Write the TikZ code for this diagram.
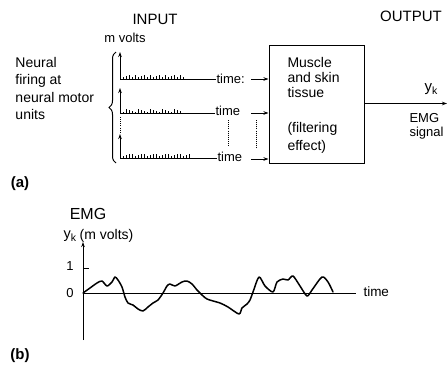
\documentclass[tikz,border=0pt]{standalone}
\usepackage{fontspec}
\setmainfont{Liberation Sans}
\usetikzlibrary{arrows.meta,decorations.pathreplacing}
\begin{document}
\begin{tikzpicture}[x=1pt,y=-1pt, line width=1pt,
  lbl/.style={inner sep=0pt, font=\fontsize{13}{15}\selectfont},
  big/.style={inner sep=0pt, font=\fontsize{15}{17}\selectfont},
  tag/.style={inner sep=0pt, font=\fontsize{15}{17}\selectfont\bfseries},
  boxtxt/.style={inner sep=0pt, anchor=base west, font=\fontsize{14}{16}\selectfont},
  arr/.style={-{Stealth[length=5pt,width=3.5pt]}},
  dotv/.style={line width=0.9pt, dash pattern=on 0.9pt off 1.2pt},
  spike/.style={line width=0.6pt},
  wave/.style={line width=1.5pt, line join=round, line cap=round}]
\useasboundingbox (0,0) rectangle (448,367);

% ---------- (a) ----------
\node[big] (input) at (155,19) {INPUT};
\node[big] (output) at (411,16) {OUTPUT};
\node[lbl] (mv) at (125,38) {m volts};
\node[inner sep=0pt, align=left, anchor=north west, font=\fontsize{14}{17.3}\selectfont] (neural) at (15,56.8)
  {Neural\\firing at\\neural motor\\units};

\coordinate (brb) at (116,163);
\coordinate (brt) at (116,52);
\draw[decorate, decoration={brace, amplitude=7pt}] (brb) -- (brt);

% axes
\coordinate (o1) at (120,79);  \coordinate (a1) at (120,52);
\coordinate (o2) at (120,113); \coordinate (a2) at (120,88);
\coordinate (o3) at (120,158); \coordinate (a3) at (120,134);
\draw[arr] (o1) -- (a1);
\draw[arr] (o2) -- (a2);
\draw[arr] (o3) -- (a3);

\node[lbl, anchor=west] (t1) at (216,78.5) {time:};
\node[lbl, anchor=west] (t2) at (215,111) {time};
\node[lbl, anchor=west] (t3) at (217,157) {time};
\draw (o1) -- (o1 -| t1.west);
\draw (o2) -- (o2 -| t2.west);
\draw (o3) -- (o3 -| t3.west);

% spikes
\foreach \i in {0,...,20}{
  \pgfmathsetmacro\hh{1.8+mod(\i*7,5)*0.6}
  \draw[spike] (123+\i*3,79) -- ++(0,-\hh);
}
\foreach \i in {0,...,19}{
  \pgfmathsetmacro\hh{1.5+mod(\i*3,4)*0.7}
  \draw[spike] (123+\i*3,113) -- ++(0,-\hh);
}
\foreach \i in {0,...,22}{
  \pgfmathsetmacro\hh{2+mod(\i*5,4)*0.8}
  \draw[spike] (123+\i*3,158) -- ++(0,-\hh);
}

% dotted
\coordinate (d1a) at (120,117); \coordinate (d1b) at (120,132);
\coordinate (d2a) at (228,120); \coordinate (d2b) at (228,147);
\coordinate (d3a) at (256,120); \coordinate (d3b) at (256,148);
\draw[dotv] (d1a) -- (d1b);
\draw[dotv] (d2a) -- (d2b);
\draw[dotv] (d3a) -- (d3b);

% box
\node[draw, minimum width=95pt, minimum height=118pt, inner sep=0pt] (box) at (316.5,104) {};
\node[boxtxt] (m1) at (287,67) {Muscle};
\node[boxtxt] (m2) at (287,82) {and skin};
\node[boxtxt] (m3) at (287,97.5) {tissue};
\node[boxtxt] (m4) at (287,132.5) {(filtering};
\node[boxtxt] (m5) at (287,150.5) {effect)};

\coordinate (s1) at (251,79);
\coordinate (s2) at (251,113);
\coordinate (s3) at (251,159);
\draw[arr] (s1) -- (s1 -| box.west);
\draw[arr] (s2) -- (s2 -| box.west);
\draw[arr] (s3) -- (s3 -| box.west);

\coordinate (yout) at (447,103.5);
\draw[arr] (box.east |- yout) -- (yout);
\node[inner sep=0pt, anchor=base west, font=\fontsize{15}{16}\selectfont] (yk1) at (424,91)
  {y{\fontsize{10.5}{10}\selectfont\raisebox{-3pt}{k}}};
\node[inner sep=0pt, align=left, anchor=north west, font=\fontsize{13}{14}\selectfont] (emg1) at (409,113)
  {EMG\\signal};

\node[tag] (la) at (20,184) {(a)};

% ---------- (b) ----------
\node[inner sep=0pt, font=\fontsize{16}{18}\selectfont] (emg2) at (88,214) {EMG};
\node[inner sep=0pt, anchor=base west, font=\fontsize{14.5}{16}\selectfont] (yk2) at (63,238.5)
  {y{\fontsize{10.5}{10}\selectfont\raisebox{-3pt}{k}}};
\node[inner sep=0pt, font=\fontsize{14}{16}\selectfont] (mv2) at (106.5,235.5) {(m volts)};

\coordinate (org) at (83,293);
\coordinate (top) at (83,242);
\coordinate (bot) at (83,340);
\coordinate (xend) at (356,293);
\coordinate (tk) at (83,268);
\draw[arr] (bot) -- (top);
\draw (org) -- (xend);
\draw (tk) -- ++(6,0);
\node[lbl] (one) at (70,266) {1};
\node[lbl] (zero) at (70,293) {0};
\node[lbl, anchor=west, font=\fontsize{13.5}{15}\selectfont] (time2) at (363,292) {time};

\draw[wave] plot[smooth, tension=0.45] coordinates {
 (83,293) (90,288) (97,283) (102,281) (107,286) (112,282) (115,277) (118,280)
 (122,287) (125,297) (128,303) (133,305) (138,309) (143,311) (148,307) (153,303)
 (158,300) (163,293) (167,286) (170,284) (175,286) (182,282) (187,281) (192,284)
 (197,290) (200,293) (207,299) (220,303) (228,307) (239,314) (242,308) (247,304)
 (250,300) (253,292) (259,277) (265,286) (273,292) (277,282) (283,279) (288,280)
 (293,276) (300,286) (307,296) (312,290) (322,277) (328,282) (333,292)};

\node[tag] (lb) at (20,356) {(b)};
\end{tikzpicture}
\end{document}
